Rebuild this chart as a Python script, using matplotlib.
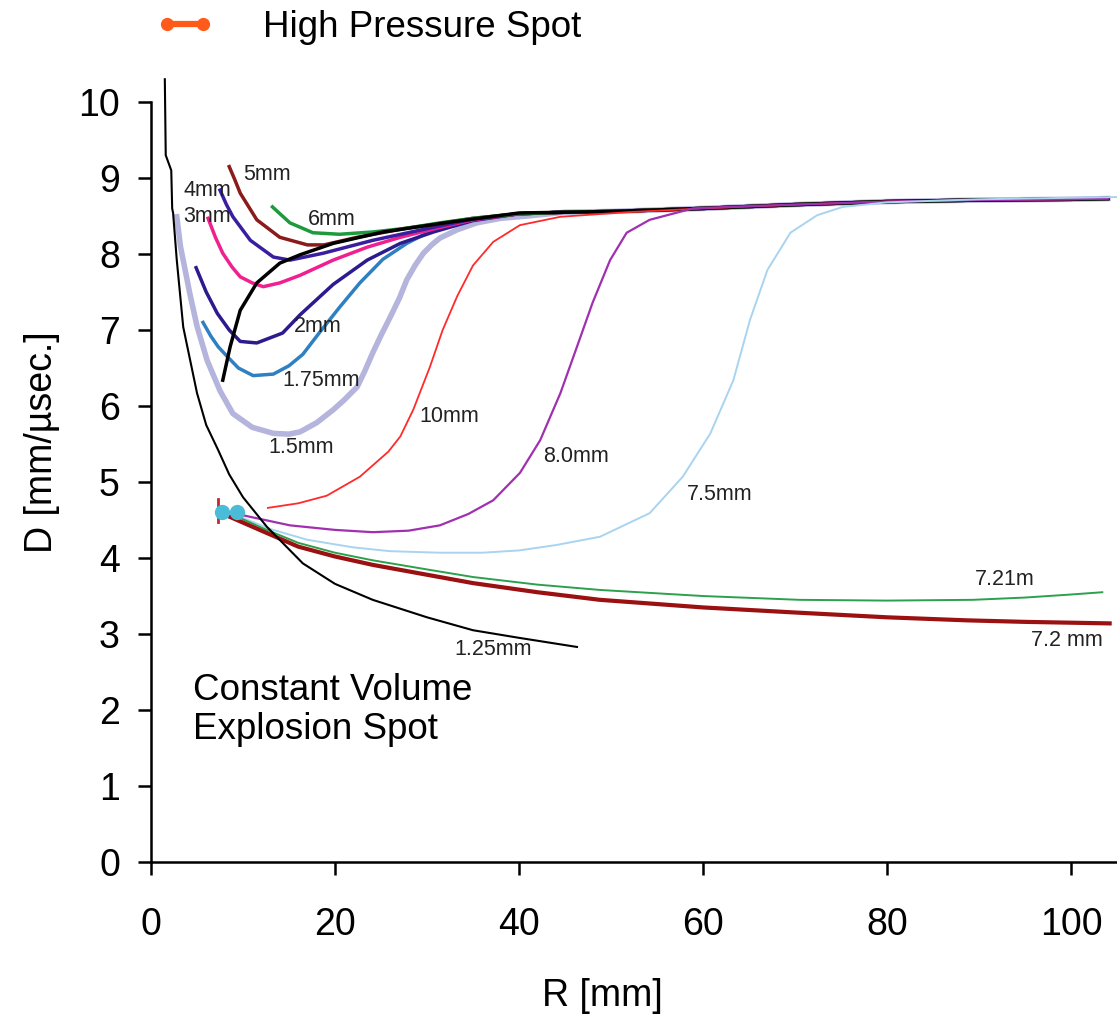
import matplotlib
matplotlib.use("Agg")
import matplotlib.pyplot as plt
from matplotlib.lines import Line2D

plt.rcParams['font.family'] = ['Liberation Sans', 'DejaVu Sans']

# shared tail where all curves merge at the CJ velocity
TAIL_R = [45, 50, 60, 70, 80, 90, 100, 104]
TAIL_D = [8.55, 8.56, 8.6, 8.65, 8.69, 8.71, 8.72, 8.73]

# radius [mm] / detonation velocity [mm/usec] per spot size
R_125 = [1.5, 1.55, 1.6, 2.2, 2.3, 2.4, 2.8, 3.5, 5.0, 6.0, 7.3, 8.5, 10, 12.6, 16.5, 20, 24.1, 30, 35, 40, 46.3]
D_125 = [10.3, 9.8, 9.3, 9.1, 8.6, 8.54, 7.92, 7.04, 6.17, 5.75, 5.42, 5.1, 4.8, 4.41, 3.93, 3.66, 3.45, 3.22, 3.05, 2.95, 2.83]

R_15 = [2.8, 3.2, 4.2, 5.0, 6.1, 7.5, 8.9, 11, 13.3, 15, 16.2, 18, 19.8, 21, 22.4, 23.2, 24.1, 25, 26, 27,
        27.8, 28.7, 29.6, 30.5, 31.4, 33.3, 35.4, 38, 40.9]
D_15 = [8.49, 8.1, 7.49, 7.05, 6.6, 6.2, 5.9, 5.72, 5.64, 5.63, 5.66, 5.78, 5.95, 6.08, 6.25, 6.45, 6.7, 6.93, 7.17, 7.42,
        7.66, 7.85, 8.01, 8.12, 8.21, 8.32, 8.41, 8.47, 8.5]

R_175 = [5.65, 6.5, 7.3, 8.3, 9.5, 11.1, 13.3, 15, 16.5, 18.4, 20.5, 22.7, 25.2, 27.8, 30.7, 35, 40]
D_175 = [7.1, 6.92, 6.78, 6.65, 6.5, 6.4, 6.42, 6.53, 6.68, 6.98, 7.3, 7.62, 7.93, 8.14, 8.32, 8.45, 8.53]

R_2 = [4.9, 6, 7.2, 8.5, 9.7, 11.5, 14.3, 16.2, 19.8, 23.5, 27.1, 30.7, 35, 40]
D_2 = [7.82, 7.5, 7.22, 7.0, 6.85, 6.83, 6.96, 7.2, 7.6, 7.92, 8.14, 8.29, 8.44, 8.53]

R_3 = [6.2, 7.0, 7.8, 8.8, 9.7, 11, 12.2, 14, 16.2, 19.8, 23.5, 27.1, 31.4, 35, 40]
D_3 = [8.47, 8.22, 8.01, 7.83, 7.7, 7.62, 7.57, 7.62, 7.72, 7.92, 8.09, 8.22, 8.35, 8.45, 8.53]

R_4 = [7.5, 8.2, 8.9, 10.8, 13.3, 15.1, 18.7, 24.1, 31.4, 35, 40]
D_4 = [8.84, 8.65, 8.49, 8.18, 7.96, 7.92, 8.01, 8.18, 8.37, 8.46, 8.53]

R_5 = [8.5, 9.1, 9.7, 11.5, 14, 17, 18.8, 22.4, 27.8, 31.4, 35, 40]
D_5 = [9.15, 8.98, 8.8, 8.45, 8.22, 8.12, 8.12, 8.22, 8.34, 8.4, 8.47, 8.53]

R_6 = [13.2, 15.1, 17.6, 20.5, 24.1, 27.8, 31.4, 35, 40]
D_6 = [8.62, 8.41, 8.28, 8.26, 8.29, 8.34, 8.41, 8.47, 8.53]

R_BLK = [7.8, 8.6, 9.7, 11.5, 14, 16.2, 19.8, 25.2, 32.5, 40]
D_BLK = [6.34, 6.78, 7.26, 7.62, 7.88, 7.99, 8.14, 8.29, 8.42, 8.54]

R_10 = [12.7, 16, 19.1, 22.7, 25.8, 27.1, 28.5, 30.3, 31.7, 33.3, 35, 37.2, 40.1, 44.5, 51.7]
D_10 = [4.66, 4.72, 4.82, 5.07, 5.4, 5.6, 5.95, 6.51, 7.0, 7.45, 7.85, 8.16, 8.38, 8.49, 8.55]

R_8 = [9.7, 15.1, 20, 24.1, 28, 31.4, 34.5, 37.2, 40.1, 42.3, 44.5, 46.3, 48, 49.9, 51.7, 54.2, 58.9, 65]
D_8 = [4.57, 4.43, 4.37, 4.34, 4.36, 4.43, 4.58, 4.76, 5.12, 5.55, 6.17, 6.78, 7.36, 7.92, 8.28, 8.45, 8.6, 8.63]

R_75 = [9.7, 13, 17, 22, 26, 31.4, 36, 40, 44, 48.8, 54.2, 57.8, 60.8, 63.3, 65.1, 67, 69.5, 72.4, 75.2, 80, 90, 100, 105]
D_75 = [4.54, 4.38, 4.24, 4.14, 4.09, 4.07, 4.07, 4.1, 4.17, 4.28, 4.59, 5.07, 5.64, 6.34, 7.13, 7.79, 8.28, 8.51, 8.62, 8.68, 8.72, 8.74, 8.75]

R_721 = [8.9, 12, 16, 20, 24.1, 30, 35, 42, 48.8, 60, 70.5, 80, 89.3, 95, 100, 103.4]
D_721 = [4.57, 4.4, 4.2, 4.07, 3.97, 3.85, 3.75, 3.65, 3.58, 3.5, 3.45, 3.44, 3.45, 3.48, 3.52, 3.55]

R_72 = [8.6, 12, 16, 20, 24.1, 30, 35, 42, 48.8, 60, 70.5, 80, 88.7, 95, 104.2]
D_72 = [4.54, 4.36, 4.15, 4.02, 3.91, 3.78, 3.67, 3.55, 3.45, 3.35, 3.28, 3.22, 3.18, 3.16, 3.14]

# initiation spots
SPOT_R = [7.7, 9.35]
SPOT_D = [4.6, 4.6]
HP_R = [7.3, 7.3]
HP_D = [4.48, 4.78]

fig = plt.figure(figsize=(11.17, 10.15), dpi=100)
ax = fig.add_axes([0.1352, 0.1507, 0.8648, 0.775])

merged = [
    (R_15, D_15, '#b4b4dc', 4.0),
    (R_175, D_175, '#2f80c2', 2.5),
    (R_2, D_2, '#2b1b8f', 2.5),
    (R_3, D_3, '#f0208f', 2.5),
    (R_4, D_4, '#3a1ea0', 2.5),
    (R_5, D_5, '#8b1a1a', 2.5),
    (R_6, D_6, '#1e9a3c', 2.5),
    (R_BLK, D_BLK, 'black', 2.5),
    (R_10, D_10, '#ff2a2a', 1.3),
    (R_8, D_8, '#a030b0', 1.6),
]
for r, d, c, lw in merged:
    rr = r + [t for t in TAIL_R if t > r[-1]]
    dd = d + [v for t, v in zip(TAIL_R, TAIL_D) if t > r[-1]]
    ax.plot(rr, dd, color=c, lw=lw, clip_on=False, solid_joinstyle='round')

ax.plot(R_75, D_75, color='#a8d4f0', lw=1.4, clip_on=False)
ax.plot(R_721, D_721, color='#2ca04c', lw=1.4)
ax.plot(R_72, D_72, color='#9b1010', lw=3.0)
ax.plot(R_125, D_125, color='black', lw=1.5, clip_on=False)
ax.plot(HP_R, HP_D, color='#c0282a', lw=2)
ax.plot(SPOT_R, SPOT_D, 'o', color='#4bbcd8', ms=10)

labels = [
    ('5mm', 10.0, 9.04), ('4mm', 3.5, 8.84), ('3mm', 3.5, 8.49),
    ('6mm', 17.1, 8.46), ('2mm', 15.5, 7.04), ('1.75mm', 14.3, 6.34),
    ('1.5mm', 12.8, 5.46), ('10mm', 29.2, 5.86), ('8.0mm', 42.6, 5.33),
    ('7.5mm', 58.3, 4.83), ('1.25mm', 33.0, 2.79), ('7.21m', 89.6, 3.72),
    ('7.2 mm', 95.7, 2.92),
]
for txt, x, y in labels:
    ax.text(x, y, txt, fontsize=15.5, ha='left', va='center', color='#222222')

ax.text(4.6, 2.26, 'Constant Volume', fontsize=26.5, ha='left', va='center')
ax.text(4.6, 1.74, 'Explosion Spot', fontsize=26.5, ha='left', va='center')

ax.set_xlim(0, 105)
ax.set_ylim(0, 10.35)
ax.set_xticks([0, 20, 40, 60, 80, 100])
ax.set_yticks(range(0, 11))
ax.spines['top'].set_visible(False)
ax.spines['right'].set_visible(False)
ax.spines['left'].set_bounds(0, 10)
for s in ('left', 'bottom'):
    ax.spines[s].set_linewidth(1.8)
ax.tick_params(labelsize=27, length=9.4, width=1.8, direction='out')
ax.tick_params(axis='y', pad=13)
ax.tick_params(axis='x', pad=23)

ax.set_xlabel('R [mm]', fontsize=27)
ax.xaxis.set_label_coords(0.467, -0.148)
ax.set_ylabel('D [mm/µsec.]', fontsize=27)
ax.yaxis.set_label_coords(-0.094, 0.534)

hp = Line2D([], [], color='#ff5a1a', lw=4.5, marker='o', ms=8.5)
fig.legend([hp], ['High Pressure Spot'], loc='center left',
           bbox_to_anchor=(0.1397, 0.973), frameon=False, fontsize=26.5,
           numpoints=2, handlelength=1.58, handletextpad=1.33,
           borderpad=0, borderaxespad=0)

fig.savefig('out.png', dpi=100)
